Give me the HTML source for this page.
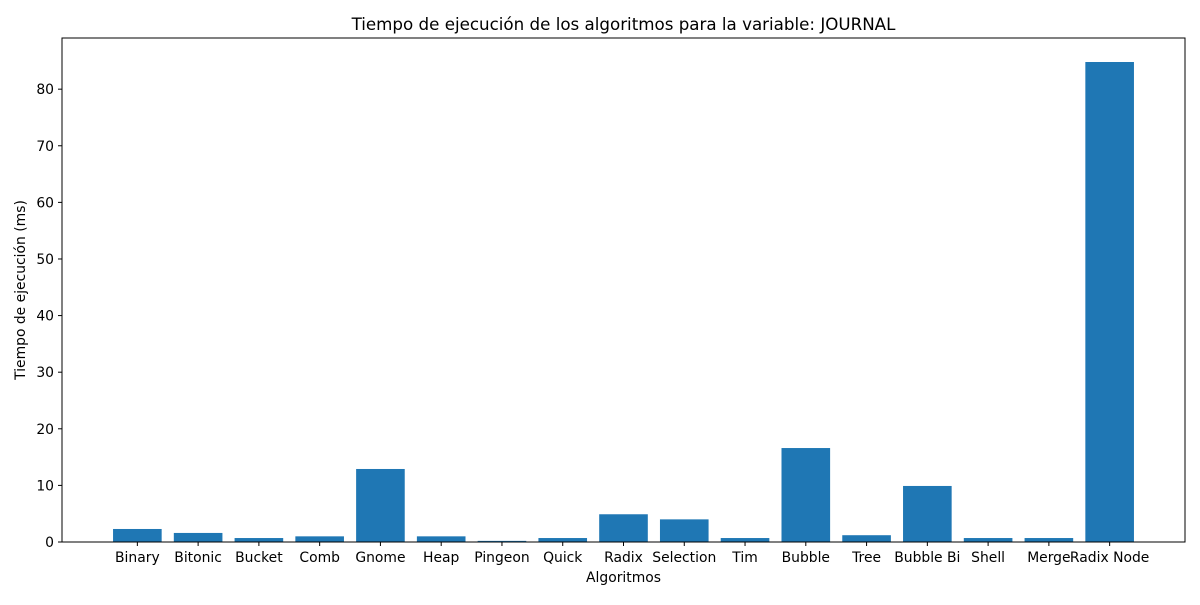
<!DOCTYPE html>
<html><head><meta charset="utf-8"><style>
body{margin:0;background:#fff;font-family:"Liberation Sans","DejaVu Sans",sans-serif;}
svg text{font-family:"DejaVu Sans","Liberation Sans",sans-serif;font-size:13.9px;fill:#000;}
</style></head><body>
<svg id="chart" width="1200" height="600" xmlns="http://www.w3.org/2000/svg">
<rect width="1200" height="600" fill="#fff"/>
<text x="623.5" y="30" text-anchor="middle" style="font-size:16.7px">Tiempo de ejecución de los algoritmos para la variable: JOURNAL</text>
<g id="bars"></g><g id="xticks"></g><g id="yticks"></g>
<rect x="62" y="38" width="1123" height="504" fill="none" stroke="#000" stroke-width="1"/>
<text x="623.5" y="582" text-anchor="middle">Algoritmos</text>
<text transform="translate(25,290) rotate(-90)" text-anchor="middle">Tiempo de ejecución (ms)</text>
</svg>
<script>
const categories=["Binary","Bitonic","Bucket","Comb","Gnome","Heap","Pingeon","Quick","Radix","Selection","Tim","Bubble","Tree","Bubble Bi","Shell","Merge","Radix Node"];
const values=[2.3,1.6,0.7,1.0,12.9,1.0,0.2,0.7,4.9,4.0,0.7,16.6,1.2,9.9,0.7,0.7,84.8];
const yTicks=[0,10,20,30,40,50,60,70,80];
const L=62,R=1185,T=38,B=542;
const n=categories.length;
const xmin=-0.4-0.05*(n-1+0.8),xmax=n-1+0.4+0.05*(n-1+0.8);
const ymax=Math.max(...values)*1.05;
const x=v=>L+(v-xmin)/(xmax-xmin)*(R-L);
const y=v=>B-v/ymax*(B-T);
const NS="http://www.w3.org/2000/svg";
const bw=0.8*(x(1)-x(0));
const gb=document.getElementById('bars'),gx=document.getElementById('xticks'),gy=document.getElementById('yticks');
categories.forEach((c,i)=>{
 const r=document.createElementNS(NS,'rect');
 
 
 r.setAttribute('x',x(i)-bw/2);r.setAttribute('width',bw);
 r.setAttribute('y',y(values[i]));r.setAttribute('height',B-y(values[i]));
 r.setAttribute('fill','#1f77b4');gb.appendChild(r);
 const l=document.createElementNS(NS,'line');
 
 
 l.setAttribute('x1',x(i));l.setAttribute('x2',x(i));l.setAttribute('y1',B);l.setAttribute('y2',B+4);l.setAttribute('stroke','#000');gx.appendChild(l);
 const t=document.createElementNS(NS,'text');
 
 
 t.setAttribute('x',x(i));t.setAttribute('y',B+20);t.setAttribute('text-anchor','middle');t.textContent=c;gx.appendChild(t);
});
yTicks.forEach(v=>{
 const l=document.createElementNS(NS,'line');
 
 
 l.setAttribute('x1',L-4);l.setAttribute('x2',L);l.setAttribute('y1',y(v));l.setAttribute('y2',y(v));l.setAttribute('stroke','#000');gy.appendChild(l);
 const t=document.createElementNS(NS,'text');
 
 
 t.setAttribute('x',L-8);t.setAttribute('y',y(v)+5);t.setAttribute('text-anchor','end');t.textContent=v;gy.appendChild(t);
});
</script>
</body></html>
